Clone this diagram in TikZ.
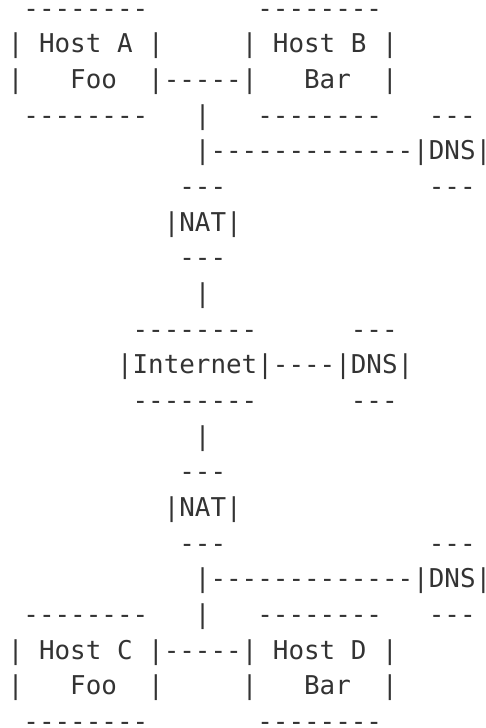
\documentclass[tikz,border=0pt]{standalone}
\usepackage{fontspec}
\newfontfamily\asciifont{DejaVu Sans Mono}
\definecolor{ink}{HTML}{333333}
\newcommand\lastbar{\makebox[0.33em][l]{|}}
\begin{document}
\begin{tikzpicture}[x=15.59pt,y=-35.67pt,
  t/.style={anchor=base west,inner sep=0pt,outer sep=0pt,text=ink,
    font=\asciifont\fontsize{25.89pt}{35.67pt}\selectfont},
  dashrow/.style={t,text height=0.4em,text depth=0pt}]
\useasboundingbox (0,0) rectangle (485pt,-728pt);
\begin{scope}[shift={(7.9pt,-17.1pt)}]
% row 0
\node[dashrow] (atop) at (1,0) {--------};
\node[dashrow] (btop) at (16,0) {--------};
% row 1
\node[t] (a1) at (0,1) {|~Host~A~|};
\node[t] (b1) at (15,1) {|~Host~B~|};
% row 2
\node[t] (a2) at (0,2) {|~~~Foo~~|};
\node[t] (ab) at (10,2) {-----};
\node[t] (b2) at (15,2) {|~~~Bar~~|};
% row 3
\node[dashrow] (abot) at (1,3) {--------};
\node[t] (v3) at (12,3) {|};
\node[dashrow] (bbot) at (16,3) {--------};
\node[dashrow] (d1top) at (27,3) {---};
% row 4
\node[t] (v4) at (12,4) {|};
\node[t] (h4) at (13,4) {-------------};
\node[t] (dns1) at (26,4) {|DNS\lastbar};
% row 5
\node[dashrow] (n1top) at (11,5) {---};
\node[dashrow] (d1bot) at (27,5) {---};
% row 6
\node[t] (nat1) at (10,6) {|NAT|};
% row 7
\node[dashrow] (n1bot) at (11,7) {---};
% row 8
\node[t] (v8) at (12,8) {|};
% row 9
\node[dashrow] (itop) at (8,9) {--------};
\node[dashrow] (d2top) at (22,9) {---};
% row 10
\node[t] (inet) at (7,10) {|Internet|};
\node[t] (h10) at (17,10) {----};
\node[t] (dns2) at (21,10) {|DNS|};
% row 11
\node[dashrow] (ibot) at (8,11) {--------};
\node[dashrow] (d2bot) at (22,11) {---};
% row 12
\node[t] (v12) at (12,12) {|};
% row 13
\node[dashrow] (n2top) at (11,13) {---};
% row 14
\node[t] (nat2) at (10,14) {|NAT|};
% row 15
\node[dashrow] (n2bot) at (11,15) {---};
\node[dashrow] (d3top) at (27,15) {---};
% row 16
\node[t] (v16) at (12,16) {|};
\node[t] (h16) at (13,16) {-------------};
\node[t] (dns3) at (26,16) {|DNS\lastbar};
% row 17
\node[dashrow] (ctop) at (1,17) {--------};
\node[t] (v17) at (12,17) {|};
\node[dashrow] (dtop) at (16,17) {--------};
\node[dashrow] (d3bot) at (27,17) {---};
% row 18
\node[t] (c1) at (0,18) {|~Host~C~|};
\node[t] (cd) at (10,18) {-----};
\node[t] (d1) at (15,18) {|~Host~D~|};
% row 19
\node[t] (c2) at (0,19) {|~~~Foo~~|};
\node[t] (d2) at (15,19) {|~~~Bar~~|};
% row 20
\node[dashrow] (cbot) at (1,20) {--------};
\node[dashrow] (dbot) at (16,20) {--------};
\end{scope}
\end{tikzpicture}
\end{document}
